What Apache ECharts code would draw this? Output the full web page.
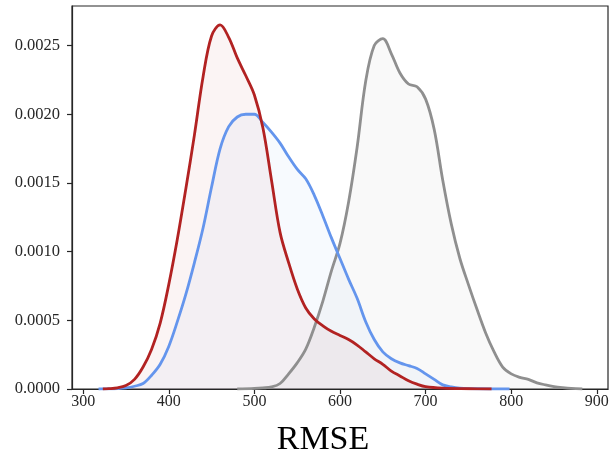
<!DOCTYPE html>
<html>
<head>
<meta charset="utf-8">
<script src="https://cdn.jsdelivr.net/npm/echarts@6/dist/echarts.min.js"></script>
<style>html,body{margin:0;padding:0;background:#fff;}#c{width:613px;height:452px;}</style>
</head>
<body>
<div id="c"></div>
<script>
const xTicks = [300, 400, 500, 600, 700, 800, 900];
const yTicks = [0, 0.0005, 0.0010, 0.0015, 0.0020, 0.0025];
const xLabel = 'RMSE';

const redCurve = [
  [323,0],[330,0.000002],[340,0.000008],[350,0.000025],[360,0.00007],[370,0.00016],[380,0.00029],
  [390,0.00048],[400,0.00076],[410,0.00109],[420,0.00146],[430,0.00185],[440,0.00227],[450,0.00257],
  [460,0.00265],[470,0.00256],[480,0.00241],[490,0.00228],[500,0.00214],[510,0.00190],[520,0.00152],
  [530,0.00114],[540,0.00092],[550,0.00073],[560,0.00059],[570,0.00051],[580,0.00046],[590,0.00042],
  [600,0.00039],[610,0.00036],[620,0.00032],[630,0.00027],[640,0.00022],[650,0.00018],[660,0.00013],
  [670,0.000095],[680,0.00006],[690,0.000035],[700,0.000017],[720,0.000006],[750,0.000002],[777,0]
];
const blueCurve = [
  [318,0],[330,0.000001],[340,0.000003],[350,0.000008],[360,0.00002],[370,0.00004],[380,0.0001],
  [390,0.00018],[400,0.00031],[410,0.00049],[420,0.00069],[430,0.00092],[440,0.00117],[450,0.00147],
  [460,0.00175],[470,0.00191],[480,0.00198],[490,0.00200],[500,0.00200],[510,0.00194],[520,0.00187],
  [530,0.00179],[540,0.00169],[550,0.00160],[560,0.00153],[570,0.00141],[580,0.00126],[590,0.00110],
  [600,0.00095],[610,0.00080],[620,0.00066],[630,0.00049],[640,0.00036],[650,0.00027],[660,0.00022],
  [670,0.00019],[680,0.00017],[690,0.00015],[700,0.00011],[710,0.00007],[720,0.00003],[730,0.000015],
  [740,0.000007],[760,0.000002],[798,0]
];
const grayCurve = [
  [480,0],[500,0.000004],[510,0.000008],[520,0.000015],[530,0.00004],[540,0.00011],[550,0.00019],
  [560,0.00029],[570,0.00045],[580,0.00064],[590,0.00086],[600,0.00106],[610,0.00136],[620,0.00176],
  [630,0.00224],[640,0.00250],[650,0.00255],[660,0.00244],[670,0.00230],[680,0.00222],[690,0.00220],
  [700,0.00211],[710,0.00189],[720,0.00152],[730,0.00120],[740,0.00095],[750,0.00076],[760,0.00058],
  [770,0.00041],[780,0.00027],[790,0.00016],[800,0.00011],[810,0.000085],[820,0.00007],[830,0.000045],
  [840,0.00003],[850,0.000018],[860,0.00001],[870,0.000004],[883,0]
];

const axisColor = '#262626';
const font = 'Liberation Serif';

function mkSeries(data, color) {
  return {
    type: 'line', data: data, smooth: 0.35, symbol: 'none',
    lineStyle: {color: color, width: 2.8, join: 'round'},
    areaStyle: {color: color, opacity: 0.05, origin: 'start'},
    clip: true
  };
}

const chart = echarts.init(document.getElementById('c'), null, {renderer: 'canvas'});
chart.setOption({
  animation: false,
  backgroundColor: '#fff',
  grid: {left: 72, right: 5, top: 6, bottom: 63, show: true, borderColor: axisColor, borderWidth: 1.2,
         containLabel: false, outerBoundsMode: 'none'},
  xAxis: {
    type: 'value', min: 287, max: 913,
    axisLine: {show: true, lineStyle: {color: axisColor, width: 1.2}},
    axisTick: {show: true, length: 5, customValues: xTicks, lineStyle: {color: axisColor, width: 1.2}},
    axisLabel: {customValues: xTicks, margin: 5, color: axisColor, fontFamily: font, fontSize: 16},
    splitLine: {show: false}
  },
  yAxis: {
    type: 'value', min: 0, max: 0.002788,
    axisLine: {show: true, lineStyle: {color: axisColor, width: 1.2}},
    axisTick: {show: true, length: 5, customValues: yTicks, lineStyle: {color: axisColor, width: 1.2}},
    axisLabel: {customValues: yTicks, margin: 12, color: axisColor, fontFamily: font, fontSize: 16.5,
                formatter: v => v.toFixed(4)},
    splitLine: {show: false}
  },
  graphic: [{
    type: 'text', x: 323, y: 440,
    style: {text: xLabel, fontFamily: font, fontSize: 34, fill: '#000', align: 'center', verticalAlign: 'middle'}
  }],
  series: [
    mkSeries(grayCurve, '#8f8f8f'),
    mkSeries(blueCurve, '#6495ed'),
    mkSeries(redCurve, '#b22222')
  ]
});
</script>
</body>
</html>
